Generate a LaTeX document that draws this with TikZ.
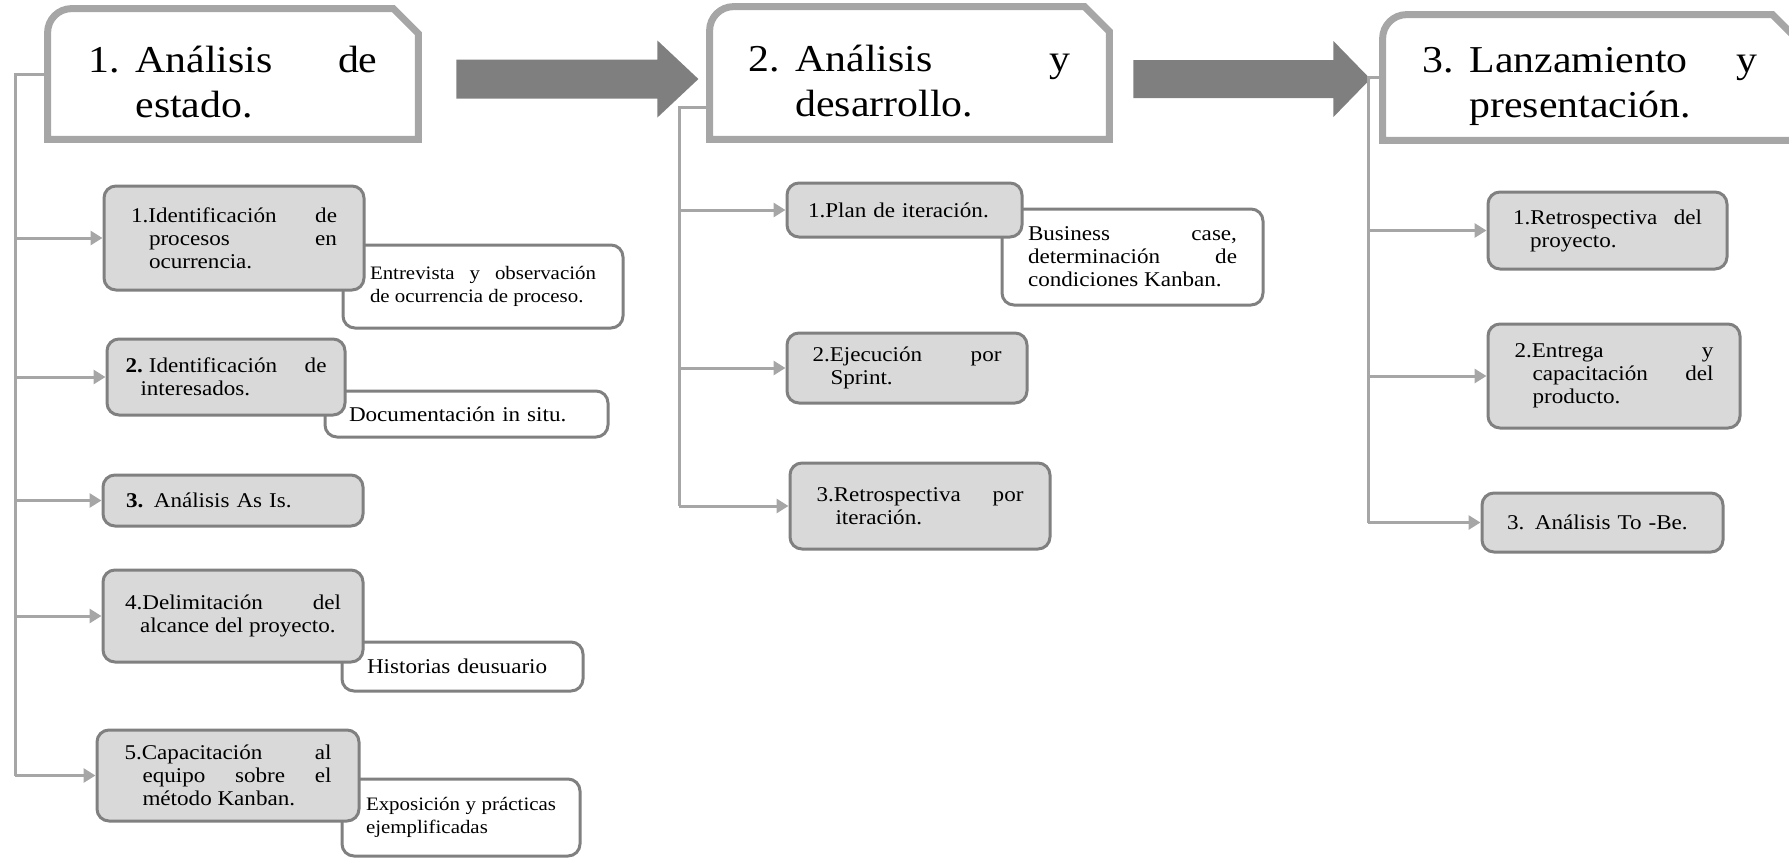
\documentclass[tikz,border=0pt]{standalone}
\usepackage{fontspec}
\setmainfont{Liberation Serif}[FakeStretch=1.1]
\usetikzlibrary{arrows.meta}
\newcommand\kbnobreak{\tolerance=10000\hbadness=10000\hyphenpenalty=10000\exhyphenpenalty=10000\relax}
\newcommand\kbfont{\fontsize{10.5}{11.5}\selectfont\kbnobreak}
\newcommand\kbsmall{\fontsize{9.5}{11.5}\selectfont\kbnobreak}
\newcommand\kbtitle{\fontsize{19}{22.5}\selectfont\kbnobreak}

\begin{document}
\begin{tikzpicture}[x=0.5pt,y=-0.5pt,
  phasebox/.style={inner sep=0pt,text width=#1,align=justify,font=\kbtitle},
  gnode/.style={draw=boxline,fill=boxfill,line width=1.5pt,rounded corners=6pt,inner sep=0pt,font=\kbfont},
  wnode/.style={gnode,fill=white},
  phaseline/.style={draw=phasegray,line width=3.5pt},
  trunk/.style={draw=phasegray,line width=1.5pt},
  branch/.style={trunk,-{Triangle[length=6pt,width=7pt]}}]
\definecolor{phasegray}{HTML}{A6A6A6}
\definecolor{arrowgray}{HTML}{7F7F7F}
\definecolor{boxline}{HTML}{808080}
\definecolor{boxfill}{HTML}{D9D9D9}
\useasboundingbox (0,0) rectangle (1789,858);
\clip (0,0) rectangle (1789,858);

\node[phasebox=144.5pt,minimum width=185pt,minimum height=65pt] (p1) at (233,74)
  {\hangindent=23.5pt\hangafter=1\relax\rule{0pt}{21.5pt}\makebox[23.5pt][l]{1.}Análisis de\linebreak estado.\par};
\node[phasebox=161pt,minimum width=199.5pt,minimum height=66pt] (p2) at (909.5,73)
  {\hangindent=23.5pt\hangafter=1\relax\rule{0pt}{21.5pt}\makebox[23.5pt][l]{2.}Análisis y\linebreak desarrollo.\par};
\node[phasebox=167.5pt,minimum width=207pt,minimum height=62.5pt] (p3) at (1590,77.5)
  {\hangindent=23.5pt\hangafter=1\relax\rule{0pt}{21.5pt}\makebox[23.5pt][l]{3.}Lanzamiento y\linebreak presentación.\par};
\foreach \p in {p1,p2,p3}
  \draw[phaseline] (\p.south west) -- ([yshift=-12pt]\p.north west) arc[start angle=180,end angle=90,radius=12pt]
    -- ([xshift=-12.5pt]\p.north east) -- ([yshift=-12.5pt]\p.north east) -- (\p.south east) -- cycle;

\path (p1.east) ++(38,5) coordinate (ar1);
\fill[arrowgray] (ar1) ++(0,-19.5) -- ++(201,0) -- ++(0,-19) -- ++(41,38.5) -- ++(-41,38.5) -- ++(0,-19) -- ++(-201,0) -- cycle;
\path (p2.east) ++(24,6) coordinate (ar2);
\fill[arrowgray] (ar2) ++(0,-19) -- ++(200,0) -- ++(0,-19) -- ++(37,38) -- ++(-37,38) -- ++(0,-19) -- ++(-200,0) -- cycle;

\node[wnode,minimum width=140pt,minimum height=41.5pt,text width=113pt,align=justify,font=\kbsmall] (d1) at (483,286.5)
  {Entrevista y observación\linebreak de ocurrencia de proceso.\par};
\node[wnode,minimum width=141.5pt,minimum height=23pt,text width=117.5pt,align=left] (d2) at (466.5,414)
  {Documentación in situ.};
\node[wnode,minimum width=120.5pt,minimum height=24.5pt,text width=95.5pt,align=left] (d4) at (462.5,666.5)
  {Historias deusuario};
\node[wnode,minimum width=119pt,minimum height=38.5pt,text width=95pt,align=justify,font=\kbsmall] (d5) at (461,817.5)
  {Exposición y prácticas\linebreak ejemplificadas\par};
\node[wnode,minimum width=130.5pt,minimum height=48pt,text width=104.5pt,align=justify] (e1) at (1132.5,257)
  {Business case,\linebreak determinación de\linebreak condiciones Kanban.\par};

\node[gnode,minimum width=130pt,minimum height=52pt,text width=103pt,align=justify] (a1) at (234,238)
  {\hangindent=9pt\hangafter=1\relax 1.Identificación de\linebreak procesos en\linebreak ocurrencia.\par};
\node[gnode,minimum width=119pt,minimum height=38pt,text width=100.5pt,align=justify] (a2) at (226,377)
  {\hangindent=7.5pt\hangafter=1\relax\textbf{2.}\hspace{3pt}Identificación de\linebreak interesados.\par};
\node[gnode,minimum width=130pt,minimum height=25.5pt,text width=107pt,align=left] (a3) at (233,500.5)
  {\textbf{3.} Análisis As Is.};
\node[gnode,minimum width=130pt,minimum height=46pt,text width=108pt,align=justify] (a4) at (233,616)
  {\hangindent=7.5pt\hangafter=1\relax 4.Delimitación del\linebreak alcance del proyecto.\par};
\node[gnode,minimum width=131pt,minimum height=45.5pt,text width=103.5pt,align=justify] (a5) at (228,775.5)
  {\hangindent=9pt\hangafter=1\relax 5.Capacitación al\linebreak equipo sobre el\linebreak método Kanban.\par};

\node[gnode,minimum width=117.5pt,minimum height=27pt,text width=96.5pt,align=left] (b1) at (904.5,210)
  {1.Plan de iteración.};
\node[gnode,minimum width=120pt,minimum height=35pt,text width=94.5pt,align=justify] (b2) at (907,368)
  {\hangindent=9pt\hangafter=1\relax 2.Ejecución por\linebreak Sprint.\par};
\node[gnode,minimum width=130pt,minimum height=43pt,text width=103.5pt,align=justify] (b3) at (920,506)
  {\hangindent=9.5pt\hangafter=1\relax 3.Retrospectiva por\linebreak iteración.\par};

\node[gnode,minimum width=119.5pt,minimum height=38.5pt,text width=94.5pt,align=justify] (c1) at (1607.5,230.5)
  {\hangindent=8.5pt\hangafter=1\relax 1.Retrospectiva del\linebreak proyecto.\par};
\node[gnode,minimum width=126pt,minimum height=52pt,text width=99.5pt,align=justify] (c2) at (1614,376)
  {\hangindent=9pt\hangafter=1\relax 2.Entrega y\linebreak capacitación del\linebreak producto.\par};
\node[gnode,minimum width=120.5pt,minimum height=29.5pt,text width=95.5pt,align=left] (c3) at (1602.5,522.5)
  {3. Análisis To -Be.};

\coordinate (t1) at (15,0);
\coordinate (t2) at (679,0);
\coordinate (t3) at (1368,0);
\draw[trunk] (p1.west) -| (t1 |- a5.west);
\draw[trunk] ([yshift=-17pt]p2.west) -| (t2 |- b3.west);
\draw[trunk] (p3.west) -| (t3 |- c3.west);
\foreach \b in {a1,a2,a3,a4,a5}
  \draw[branch] (t1 |- \b.west) -- (\b.west);
\foreach \b in {b1,b2,b3}
  \draw[branch] (t2 |- \b.west) -- (\b.west);
\foreach \b in {c1,c2,c3}
  \draw[branch] (t3 |- \b.west) -- (\b.west);
\end{tikzpicture}
\end{document}
